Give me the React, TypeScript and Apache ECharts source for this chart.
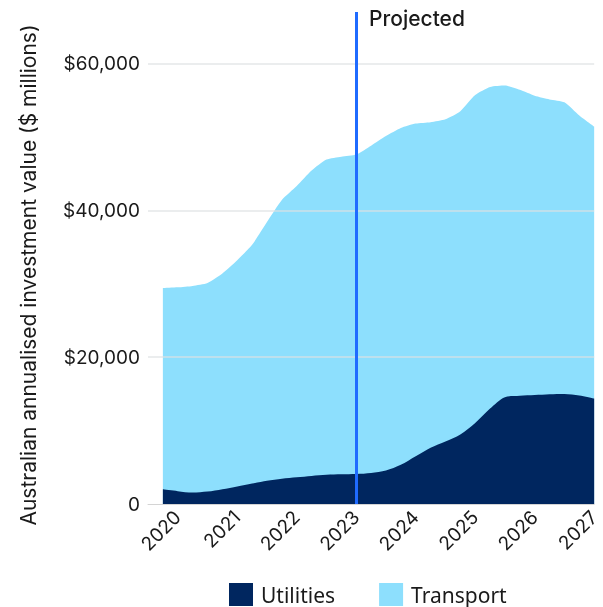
import React, { useEffect, useRef } from 'react';
import * as echarts from 'echarts';

// Quarter-end periods
const periods = [
  'Sep 2019', 'Dec 2019',
  'Mar 2020', 'Jun 2020', 'Sep 2020', 'Dec 2020',
  'Mar 2021', 'Jun 2021', 'Sep 2021', 'Dec 2021',
  'Mar 2022', 'Jun 2022', 'Sep 2022', 'Dec 2022',
  'Mar 2023', 'Jun 2023', 'Sep 2023', 'Dec 2023',
  'Mar 2024', 'Jun 2024', 'Sep 2024', 'Dec 2024',
  'Mar 2025', 'Jun 2025', 'Sep 2025', 'Dec 2025',
  'Mar 2026', 'Jun 2026', 'Sep 2026', 'Dec 2026',
];

// $ millions
const utilities = [
  2000, 1750, 1560, 1690, 2010, 2400, 2790, 3180, 3440, 3640,
  3830, 3990, 4050, 4080, 4220, 4550, 5330, 6500, 7660, 8510,
  9480, 11040, 13000, 14550, 14740, 14830, 14940, 14980, 14770, 14350,
];
const transport = [
  27400, 27750, 28140, 28410, 29390, 30800, 32510, 35220, 37960, 39660,
  41570, 42910, 43250, 43520, 44580, 45550, 45870, 45300, 44340, 43890,
  44020, 44660, 43800, 42450, 41660, 40770, 40160, 39720, 38130, 37050,
];

const yTicks = [0, 20000, 40000, 60000];
const yearLabels = [2020, 2021, 2022, 2023, 2024, 2025, 2026, 2027];
const projectionStart = 'Dec 2022';

const NAVY = '#00265f';
const LIGHT = '#8ddffd';
const TEXT = '#1a1a1a';
const FONT = 'Inter';

const monthNum: Record<string, number> = { Mar: 3, Jun: 6, Sep: 9, Dec: 12 };
const toYear = (p: string) => {
  const [m, y] = p.split(' ');
  return Number(y) + monthNum[m] / 12;
};

export default function App() {
  const ref = useRef<HTMLDivElement>(null);

  useEffect(() => {
    if (!ref.current) return;
    const chart = echarts.init(ref.current, undefined, { renderer: 'svg' });
    const xs = periods.map(toYear);
    // stacked top of Transport = Utilities + Transport
    const stackedTransport = xs.map((x, i) => [x, utilities[i] + transport[i]]);

    chart.setOption({
      animation: false,
      grid: { left: 148, right: 2, top: 12, bottom: 103, containLabel: false },
      legend: {
        data: [
          { name: 'Utilities', icon: 'rect' },
          { name: 'Transport', icon: 'rect' },
        ],
        left: 229,
        top: 583,
        padding: 0,
        itemWidth: 24,
        itemHeight: 23,
        itemGap: 44,
        selectedMode: false,
        textStyle: {
          fontFamily: 'Noto Sans',
          fontSize: 21,
          lineHeight: 20,
          color: TEXT,
          padding: [0, 0, 0, 3],
        },
      },
      xAxis: {
        type: 'value',
        min: 2019.5,
        max: 2027,
        interval: 0.5,
        axisLine: { show: true, lineStyle: { color: '#d4d4d4', width: 1 } },
        axisTick: { show: false },
        splitLine: { show: false },
        axisLabel: {
          rotate: 45,
          margin: 10,
          fontFamily: FONT,
          fontSize: 19,
          color: TEXT,
          formatter: (v: number) => (yearLabels.includes(v) ? String(v) : ''),
        },
      },
      yAxis: {
        type: 'value',
        min: 0,
        max: 67000,
        interval: 20000,
        axisLine: { show: false },
        axisTick: { show: false },
        splitLine: { show: false },
        axisLabel: {
          margin: 8,
          fontFamily: FONT,
          fontSize: 19,
          color: TEXT,
          showMaxLabel: false,
          formatter: (v: number) =>
            yTicks.includes(v) ? (v === 0 ? '0' : '$' + v.toLocaleString('en-US')) : '',
        },
      },
      series: [
        {
          name: 'Transport',
          type: 'line',
          data: stackedTransport,
          showSymbol: false,
          symbol: 'none',
          smooth: 0.2,
          z: 2,
          lineStyle: { width: 0 },
          itemStyle: { color: LIGHT },
          areaStyle: { color: LIGHT, opacity: 1 },
          markLine: {
            silent: true,
            symbol: ['none', 'none'],
            label: { show: false },
            lineStyle: { color: 'rgba(222,226,228,0.8)', width: 1.5, type: 'solid' },
            data: [
              ...yTicks.filter((v) => v > 0).map((v) => ({ yAxis: v })),
              {
                xAxis: toYear(projectionStart),
                lineStyle: { color: '#1f6bff', width: 3, type: 'solid' },
              },
            ],
          },
        },
        {
          name: 'Utilities',
          type: 'line',
          data: xs.map((x, i) => [x, utilities[i]]),
          showSymbol: false,
          symbol: 'none',
          smooth: 0.3,
          z: 3,
          lineStyle: { width: 0 },
          itemStyle: { color: NAVY },
          areaStyle: { color: NAVY, opacity: 1 },
        },
      ],
      graphic: [
        {
          type: 'text',
          left: 369,
          top: 8,
          style: {
            text: 'Projected',
            fontFamily: FONT,
            fontSize: 21,
            fontWeight: 500,
            fill: TEXT,
          },
        },
        {
          type: 'text',
          x: 28,
          y: 275,
          rotation: Math.PI / 2,
          style: {
            text: 'Australian annualised investment value ($ millions)',
            fontFamily: FONT,
            fontSize: 21,
            fill: TEXT,
            align: 'center',
            verticalAlign: 'middle',
          },
        },
      ],
    });

    return () => chart.dispose();
  }, []);

  return (
    <div
      ref={ref}
      style={{ position: 'fixed', left: 0, top: 0, width: 603, height: 607 }}
    />
  );
}
